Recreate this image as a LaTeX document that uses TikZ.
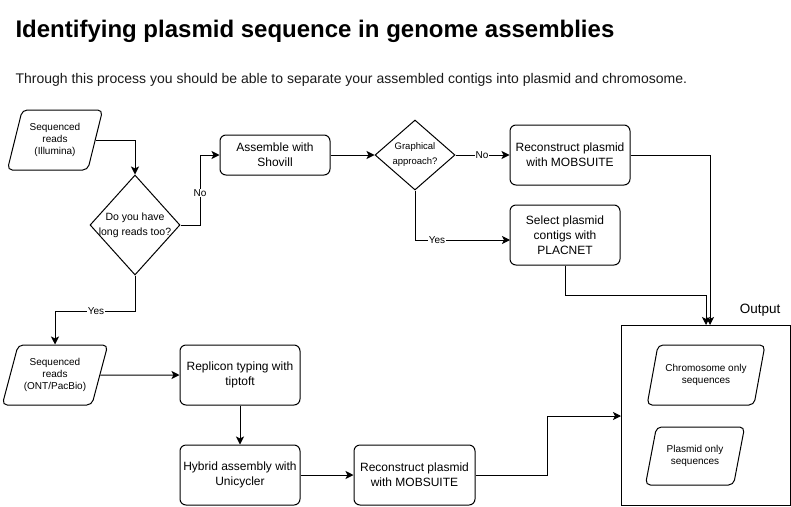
\documentclass[tikz,border=0pt]{standalone}
\usepackage{fontspec}
\setmainfont{Liberation Sans}
\usetikzlibrary{shapes.geometric,arrows.meta}
\begin{document}
\begin{tikzpicture}[x=1pt,y=-1pt,line width=1pt,
  proc/.style={draw, rounded corners=6pt, fill=white, minimum width=#1, minimum height=60, inner sep=0pt, align=center, font=\fontsize{12}{15}\selectfont},
  proc/.default=120,
  para/.style={draw, fill=white, trapezium, trapezium left angle=#1, trapezium right angle=180-#1, trapezium stretches=true, rounded corners=5pt, inner sep=2pt, align=center, font=\fontsize{10}{12}\selectfont},
  dec/.style={draw, fill=white, diamond, inner sep=2pt},
  lbl/.style={fill=white, inner sep=1pt, font=\fontsize{10}{12}\selectfont},
  arr/.style={-{Stealth[length=8pt,width=8pt,inset=2pt]}}
]
\useasboundingbox (0,0) rectangle (791,506);

% titles
\node[anchor=base west, inner sep=0pt, font=\fontsize{24}{28}\selectfont\bfseries] (title) at (15,37) {Identifying plasmid sequence in genome assemblies};
\node[anchor=base west, inner sep=0pt, font=\fontsize{14}{16}\selectfont, text=black!90] (sub) at (15,83) {Through this process you should be able to separate your assembled contigs into plasmid and chromosome.};

% input reads (Illumina)
\node[para=71.6, minimum width=96, minimum height=60] (p1) at (55,140) {Sequenced\\reads\\(Illumina)};

% decision long reads
\node[dec, minimum width=90, minimum height=100] (d1) at (135,225) {};
\node[align=center, inner sep=0pt, font=\fontsize{10.5}{15}\selectfont] (d1t) at (135,225) {Do you have\\long reads too?};

% assemble
\node[proc=110, minimum height=40] (as) at (275,155) {Assemble with\\Shovill};

% decision graphical
\node[dec, minimum width=80, minimum height=70] (d2) at (415,155) {};
\node[align=center, inner sep=0pt, font=\fontsize{9.5}{15}\selectfont] (d2t) at (415,155) {Graphical\\approach?};

% mobsuite top
\node[proc=120] (mob1) at (570,155) {Reconstruct plasmid\\with MOBSUITE};
% placnet
\node[proc=110] (sel) at (565,235) {Select plasmid\\contigs with\\PLACNET};

% long reads
\node[para=69, minimum width=106, minimum height=60] (p2) at (55,375) {Sequenced\\reads\\(ONT/PacBio)};

\node[proc=120] (rep) at (240,375) {Replicon typing with\\tiptoft};
\node[proc=120] (hyb) at (240,475) {Hybrid assembly with\\Unicycler};
\node[proc=121] (mob2) at (414.5,475) {Reconstruct plasmid\\with MOBSUITE};

% output
\node[draw, minimum width=169, minimum height=180, inner sep=0pt] (out) at (705.5,415) {};
\node[font=\fontsize{13.5}{16}\selectfont, inner sep=0pt] (outl) at (760,310) {Output};
\node[para=69, minimum width=118, minimum height=60] (chr) at (706,375) {Chromosome only\\sequences};
\node[para=71, minimum width=100, minimum height=58] (pls) at (695,456) {Plasmid only\\sequences};

% connectors
\draw[arr] (p1.east) -| (d1.north);
\draw[arr] (d1.east) -- (200,225) |- (as.west);
\node[lbl] (no1) at (200,193) {No};
\draw[arr] (d1.south) -- (135,311) -| (p2.north);
\node[lbl] (yes1) at (96,311) {Yes};
\draw[arr] (as.east) -- (d2.west);
\draw[arr] (d2.east) -- (mob1.west);
\node[lbl] (no2) at (482,155) {No};
\coordinate (selin) at (510,240);
\draw[arr] (d2.south) |- (selin);
\node[lbl] (yes2) at (437,240) {Yes};
\coordinate (outa) at (710,325);
\coordinate (outb) at (706,325);
\draw[arr] (mob1.east) -| (outa);
\draw[arr] (sel.south) -- (565,295) -| (outb);
\draw[arr] (p2.east) -- (rep.west);
\draw[arr] (rep.south) -- (hyb.north);
\draw[arr] (hyb.east) -- (mob2.west);
\coordinate (outc) at (621,416);
\draw[arr] (mob2.east) -- (547,475) |- (outc);
\end{tikzpicture}
\end{document}
